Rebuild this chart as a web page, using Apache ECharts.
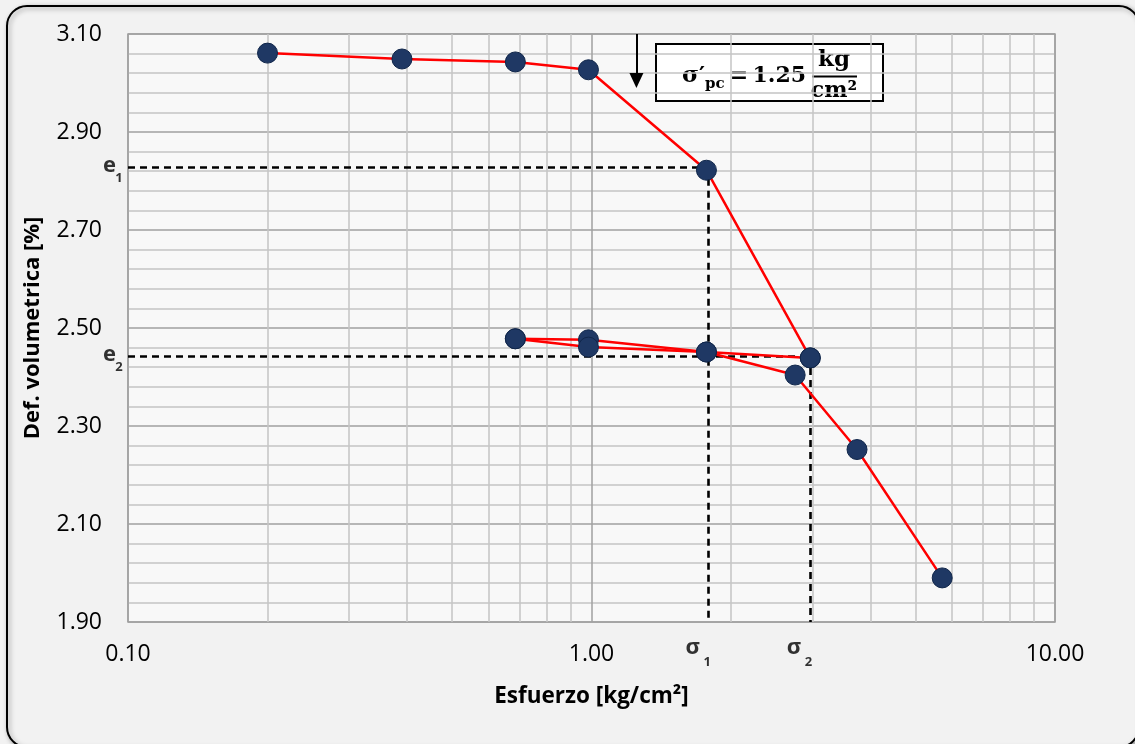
<!DOCTYPE html>
<html><head><meta charset="utf-8">
<script src="https://cdn.jsdelivr.net/npm/echarts@6/dist/echarts.min.js"></script>
<style>html,body{margin:0;padding:0;background:#f2f2f2;}#c{width:1135px;height:744px;}</style>
</head><body><div id="c"></div>
<script>
// ---- data ----
const loadStress   = [0.2, 0.39, 0.685, 0.985, 1.77, 2.965];
const loadStrain   = [3.061, 3.049, 3.043, 3.027, 2.822, 2.439];
const unloadStress = [2.965, 1.77, 0.985, 0.685];
const unloadStrain = [2.439, 2.451, 2.476, 2.478];
const reloadStress = [0.685, 0.985, 1.77, 2.75, 3.74, 5.71];
const reloadStrain = [2.478, 2.461, 2.451, 2.404, 2.252, 1.990];
const minorStress  = [0.2,0.3,0.4,0.5,0.6,0.7,0.8,0.9,2,3,4,5,6,7,8,9];
const eLevels      = [2.829, 2.443];
const sigmaStress  = [1.79, 2.96];
const subNames     = ['1', '2'];
const sigmaPc      = 1.25;
const arrowFrom    = 3.10;
const arrowTo      = 3.005;
const xTitle = 'Esfuerzo [kg/cm²]';
const yTitle = 'Def. volumetrica [%]';

const FONT = 'Open Sans';
const SERIF = 'bold 21px "DejaVu Serif"';
const pts = (xs, ys) => xs.map((x, i) => [x, ys[i]]);

const curveStyle = {
  type: 'line', symbol: 'circle', symbolSize: 20, z: 5,
  lineStyle: {color: '#ff0000', width: 2.5},
  itemStyle: {color: '#1f3864', borderColor: '#10264a', borderWidth: 1},
  emphasis: {disabled: true}, animation: false
};

const dashStyle = {color: '#000', width: 2.6, type: [7, 5]};
const dashLines = [];
eLevels.forEach((e, i) => {
  dashLines.push([{coord: [0.1, e]}, {coord: [sigmaStress[i], e]}]);
  dashLines.push([{coord: [sigmaStress[i], e]}, {coord: [sigmaStress[i], 1.9]}]);
});

const labelItems = [];
const lbl = (txt, off, size) => ({show: true, position: 'inside', formatter: txt, offset: off,
  fontSize: size, fontWeight: 'bold', color: '#000', fontFamily: FONT});
eLevels.forEach((e, i) => {
  labelItems.push({value: [0.1, e], label: lbl('e', [-18.5, -1], 22)});
  labelItems.push({value: [0.1, e], label: lbl(subNames[i], [-9, 11.5], 13)});
});
sigmaStress.forEach((s, i) => {
  labelItems.push({value: [s, 1.9], label: lbl('σ', [-16, 26], 22)});
  labelItems.push({value: [s, 1.9], label: lbl(subNames[i], [-1.5, 40], 13)});
});

const txt = (x, y, t, font, align) => ({type: 'text',
  style: {x: x, y: y, text: t, font: font, fill: '#000', align: align || 'left', verticalAlign: 'middle'}});

const chart = echarts.init(document.getElementById('c'));
chart.setOption({
  backgroundColor: '#f2f2f2',
  animation: false,
  grid: {left: 128, top: 34, right: 80, bottom: 122, show: true,
         backgroundColor: '#f8f8f8', borderColor: '#a0a0a0', borderWidth: 1.5},
  xAxis: {
    type: 'log', logBase: 10, min: 0.1, max: 10,
    name: xTitle, nameLocation: 'middle', nameGap: 63,
    nameTextStyle: {fontSize: 22.5, fontWeight: 'bold', color: '#000', fontFamily: FONT},
    axisLine: {show: false}, axisTick: {show: false},
    axisLabel: {formatter: v => v.toFixed(2), fontSize: 23, color: '#000', fontFamily: FONT, margin: 21},
    splitLine: {show: true, lineStyle: {color: '#a0a0a0', width: 1.5}}
  },
  yAxis: {
    type: 'value', min: 1.9, max: 3.1, interval: 0.2,
    name: yTitle, nameLocation: 'middle', nameGap: 84,
    nameTextStyle: {fontSize: 22, fontWeight: 'bold', color: '#000', fontFamily: FONT},
    axisLine: {show: false}, axisTick: {show: false},
    axisLabel: {formatter: v => v.toFixed(2), fontSize: 23, color: '#000', fontFamily: FONT, margin: 26},
    splitLine: {show: true, lineStyle: {color: '#a0a0a0', width: 1.5}},
    minorTick: {show: false, splitNumber: 5},
    minorSplitLine: {show: true, lineStyle: {color: '#c4c4c4', width: 1.5}}
  },
  graphic: [
    {type: 'rect', z: -100, silent: true,
     shape: {x: 7, y: 6, width: 1132, height: 741, r: 20},
     style: {fill: '#f2f2f2', stroke: '#000', lineWidth: 2,
             shadowBlur: 5, shadowColor: 'rgba(0,0,0,0.35)', shadowOffsetX: 2, shadowOffsetY: 2}},
    {type: 'group', z: 100, silent: true, children: [
      {type: 'rect', shape: {x: 656, y: 44, width: 227, height: 57},
       style: {fill: '#fff', stroke: '#000', lineWidth: 2}},
      txt(682, 76, 'σ′', 'bold 23px "DejaVu Serif"'),
      txt(705, 84, 'pc', 'bold 15px "DejaVu Serif"'),
      txt(739, 76, '=', 'bold 22px "DejaVu Serif"', 'center'),
      txt(806, 76, '1.25', 'bold 22px "DejaVu Serif"', 'right'),
      txt(834, 60, 'kg', 'bold 23px "DejaVu Serif"', 'center'),
      {type: 'line', shape: {x1: 812, y1: 76.5, x2: 857, y2: 76.5}, style: {stroke: '#000', lineWidth: 2}},
      txt(834, 91, 'cm²', 'bold 22px "DejaVu Serif"', 'center')
    ]}
  ],
  series: [
    {type: 'scatter', data: [], z: 1, silent: true,
     markLine: {silent: true, symbol: 'none', animation: false, label: {show: false},
       lineStyle: {color: '#c4c4c4', width: 1.5, type: 'solid'},
       data: minorStress.map(v => ({xAxis: v}))}},
    Object.assign({name: 'carga', data: pts(loadStress, loadStrain)}, curveStyle),
    Object.assign({name: 'descarga', data: pts(unloadStress, unloadStrain)}, curveStyle),
    Object.assign({name: 'recarga', data: pts(reloadStress, reloadStrain)}, curveStyle),
    {type: 'scatter', data: [], z: 10, silent: true,
     markLine: {silent: true, symbol: 'none', animation: false, label: {show: false},
       lineStyle: dashStyle, data: dashLines}},
    {type: 'scatter', data: [], z: 10, silent: true,
     markLine: {silent: true, symbol: ['none', 'triangle'], symbolSize: [14, 15], animation: false,
       label: {show: false}, lineStyle: {color: '#000', width: 2, type: 'solid'},
       data: [[{coord: [sigmaPc, arrowFrom]}, {coord: [sigmaPc, arrowTo]}]]}},
    {type: 'scatter', data: labelItems, symbolSize: 0, z: 10, silent: true, clip: false,
     itemStyle: {color: 'transparent'}}
  ]
});
</script></body></html>
